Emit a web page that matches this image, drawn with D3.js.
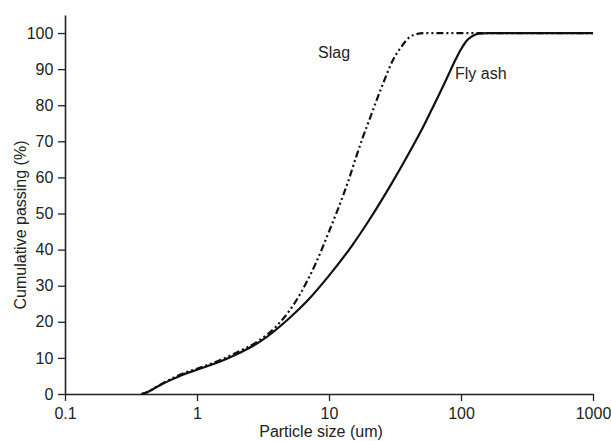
<!DOCTYPE html>
<html>
<head>
<meta charset="utf-8">
<script src="https://cdn.jsdelivr.net/npm/d3@7"></script>
<style>
  body { margin: 0; background: #fff; }
  text { font-family: Arial, "Liberation Sans", sans-serif; fill: #222; }
</style>
</head>
<body>
<div id="chart"></div>
<script>
var svgWidth = 611;
var svgHeight = 441;

var margin = { top: 15, right: 18, bottom: 47, left: 65 };
var width = svgWidth - margin.left - margin.right;
var height = svgHeight - margin.top - margin.bottom;

// data
var flyAshSize = [0.38, 0.42, 0.5, 0.6, 0.7, 0.8, 1, 1.5, 2, 3, 5, 7, 10, 15, 20, 30, 40, 50, 60, 70, 80, 90, 100, 110, 120, 135, 160, 300, 1000];
var flyAshPass = [0, 0.5, 2, 3.5, 4.6, 5.5, 6.7, 9, 11, 14.5, 21, 26.2, 32.8, 41.2, 48, 58.5, 66.5, 73, 78.8, 83.8, 88.3, 92.3, 95.5, 97.8, 99, 99.8, 100, 100, 100];

var slagSize = [0.38, 0.42, 0.5, 0.6, 0.7, 0.8, 1, 1.5, 2, 3, 4, 5, 6, 8, 10, 14, 16, 18, 20, 23, 26, 30, 35, 40, 46, 55, 100, 1000];
var slagPass = [0, 0.5, 2.1, 3.7, 4.9, 5.8, 7, 9.4, 11.5, 15, 18.8, 23, 27.5, 36.5, 45, 59, 65.5, 71, 75.5, 81.5, 86.5, 92, 96, 98.6, 99.7, 100, 100, 100];

var xTicks = [0.1, 1, 10, 100, 1000];
var yTicks = [0, 10, 20, 30, 40, 50, 60, 70, 80, 90, 100];

var svg = d3.select("#chart")
  .append("svg")
  .attr("width", svgWidth)
  .attr("height", svgHeight);

var chartGroup = svg.append("g")
  .attr("transform", `translate(${margin.left}, ${margin.top})`);

var xLogScale = d3.scaleLog().domain([0.1, 1000]).range([0, width]);
var yLinearScale = d3.scaleLinear().domain([0, 105]).range([height, 0]);

// minor ticks on x: 2..9 in each decade
var xMinor = [];
for (var d = 0.1; d < 1000; d *= 10) {
  for (var k = 2; k <= 9; k++) xMinor.push(d * k);
}
var yMinor = d3.range(5, 105, 10);

var axisStroke = "#222";

// x axis
var xAxis = chartGroup.append("g")
  .attr("transform", `translate(0, ${height})`);
xAxis.call(d3.axisBottom(xLogScale).tickValues(xMinor).tickSize(4).tickFormat(""));
xAxis.call(d3.axisBottom(xLogScale).tickValues(xTicks).tickSize(7).tickSizeOuter(0)
  .tickFormat(d3.format("~g")));

// y axis
var yAxis = chartGroup.append("g");
yAxis.call(d3.axisLeft(yLinearScale).tickValues(yMinor).tickSize(4).tickFormat(""));
yAxis.call(d3.axisLeft(yLinearScale).tickValues(yTicks).tickSize(7).tickSizeOuter(0));

svg.selectAll(".domain").attr("stroke", axisStroke).attr("stroke-width", 1.6);
svg.selectAll(".tick line").attr("stroke", axisStroke).attr("stroke-width", 1.3);
svg.selectAll(".tick text").attr("font-size", "16px").style("fill", "#222");
xAxis.selectAll(".tick text").attr("dy", "0.92em");
yAxis.selectAll(".tick text").attr("dx", "-0.1em");

// curves
var line = d3.line()
  .x(d => xLogScale(d[0]))
  .y(d => yLinearScale(d[1]))
  .curve(d3.curveMonotoneX);

chartGroup.append("path")
  .datum(slagSize.map((s, i) => [s, slagPass[i]]))
  .attr("d", line)
  .attr("fill", "none")
  .attr("stroke", "#111")
  .attr("stroke-width", 2.2)
  .attr("stroke-dasharray", "7,3,2,3,2,3");

chartGroup.append("path")
  .datum(flyAshSize.map((s, i) => [s, flyAshPass[i]]))
  .attr("d", line)
  .attr("fill", "none")
  .attr("stroke", "#111")
  .attr("stroke-width", 2.2);

// series labels
chartGroup.append("text")
  .attr("x", 253)
  .attr("y", 43)
  .attr("font-size", "16px")
  .text("Slag");

chartGroup.append("text")
  .attr("x", 390)
  .attr("y", 64)
  .attr("font-size", "16px")
  .text("Fly ash");

// axis titles
svg.append("text")
  .attr("x", margin.left + width / 2 - 8)
  .attr("y", 437)
  .attr("text-anchor", "middle")
  .attr("font-size", "16px")
  .text("Particle size (um)");

svg.append("text")
  .attr("transform", "rotate(-90)")
  .attr("x", -225)
  .attr("y", 26)
  .attr("text-anchor", "middle")
  .attr("font-size", "16px")
  .text("Cumulative passing (%)");
</script>
</body>
</html>
